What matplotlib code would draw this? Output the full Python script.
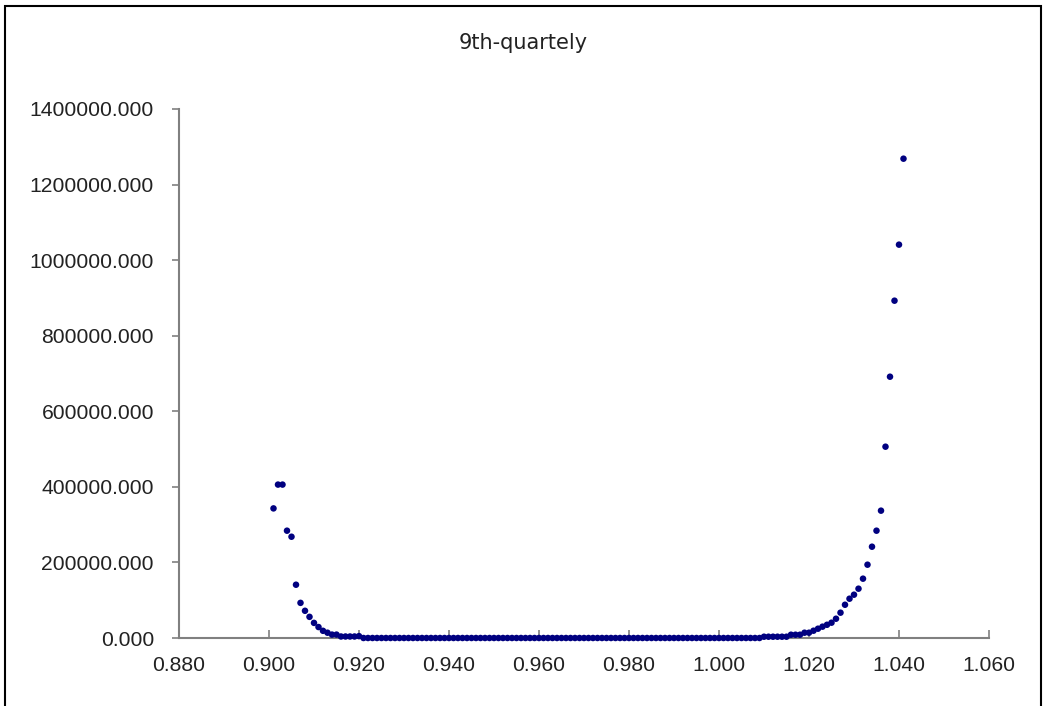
#!/usr/bin/env python3
# -*- coding: utf-8 -*-


import numpy as np
import matplotlib
matplotlib.use('Agg')
import matplotlib.pyplot as plt
from matplotlib.patches import Rectangle
from matplotlib.ticker import FormatStrFormatter

title = '9th-quartely'

''' x runs 0.901 .. 1.041 in steps of 0.001 '''
x_start = 0.901
x_step  = 0.001

''' 0.901 .. 0.920 '''
y_left  = [343000, 406000, 406000, 284000, 268000, 141000, 93000, 72000,
           56000, 40000, 29000, 19000, 14000, 9000, 9000, 4000, 4000,
           4000, 4000, 5000]
''' 0.921 .. 1.009 '''
y_mid   = [0, 0, 0, 0, 0, 0, 0, 0, 0, 0, 0, 0, 0, 0, 0, 0, 0, 0, 0, 0,
           0, 0, 0, 0, 0, 0, 0, 0, 0, 0, 0, 0, 0, 0, 0, 0, 0, 0, 0, 0,
           0, 0, 0, 0, 0, 0, 0, 0, 0, 0, 0, 0, 0, 0, 0, 0, 0, 0, 0, 0,
           0, 0, 0, 0, 0, 0, 0, 0, 0, 0, 0, 0, 0, 0, 0, 0, 0, 0, 0, 0,
           0, 0, 0, 0, 0, 0, 0, 0, 0]
''' 1.010 .. 1.041 '''
y_right = [3400, 3400, 3400, 3400, 3400, 3400, 8700, 8700, 8700, 14000,
           14000, 19300, 24600, 30000, 35000, 40500, 51000, 67000, 88000,
           104000, 114600, 130500, 157000, 194000, 241600, 284000, 337000,
           506300, 691500, 892700, 1041000, 1268500]

x_ticks = [0.880, 0.900, 0.920, 0.940, 0.960, 0.980, 1.000, 1.020, 1.040, 1.060]
y_ticks = [0, 200000, 400000, 600000, 800000, 1000000, 1200000, 1400000]

y_vals = np.array(y_left + y_mid + y_right, dtype=float)
x_vals = np.round(x_start + x_step * np.arange(len(y_vals)), 3)

W, H, DPI = 1045, 706, 100
fig = plt.figure(figsize=(W / DPI, H / DPI), dpi=DPI)
ax  = fig.add_axes([179 / W, 1 - 638 / H, (989 - 179) / W, (638 - 109) / H])

ax.scatter(x_vals, y_vals, s=22, color='#000080', edgecolors='none',
           clip_on=False, zorder=3)

ax.set_xlim(x_ticks[0], x_ticks[-1])
ax.set_ylim(y_ticks[0], y_ticks[-1])
ax.set_xticks(x_ticks)
ax.set_yticks(y_ticks)
ax.xaxis.set_major_formatter(FormatStrFormatter('%.3f'))
ax.yaxis.set_major_formatter(FormatStrFormatter('%.3f'))

axis_col = '#808080'
for side in ['top', 'right']:
    ax.spines[side].set_visible(False)
for side in ['left', 'bottom']:
    ax.spines[side].set_color(axis_col)
    ax.spines[side].set_linewidth(1.5)

lab_font = dict(family='Liberation Sans', size=15.2)
ax.tick_params(axis='x', direction='in', length=6, width=1.2,
               color=axis_col, pad=13)
ax.tick_params(axis='y', direction='out', length=5, width=1.2,
               color=axis_col, pad=13)
for lab in ax.get_xticklabels() + ax.get_yticklabels():
    lab.set_fontfamily(lab_font['family'])
    lab.set_fontsize(lab_font['size'])
    lab.set_color('#222222')

fig.text(523 / W, 1 - 43 / H, title, ha='center', va='center',
         fontsize=15, color='#222222', family='DejaVu Sans')

''' outer chart frame, bottom edge runs off the image '''
fig.patches.append(Rectangle((5 / W, -0.1), (1041 - 5) / W, 1.1 - 6 / H,
                             transform=fig.transFigure, fill=False,
                             edgecolor='black', linewidth=1.5))

fig.savefig('out.png', dpi=DPI)
